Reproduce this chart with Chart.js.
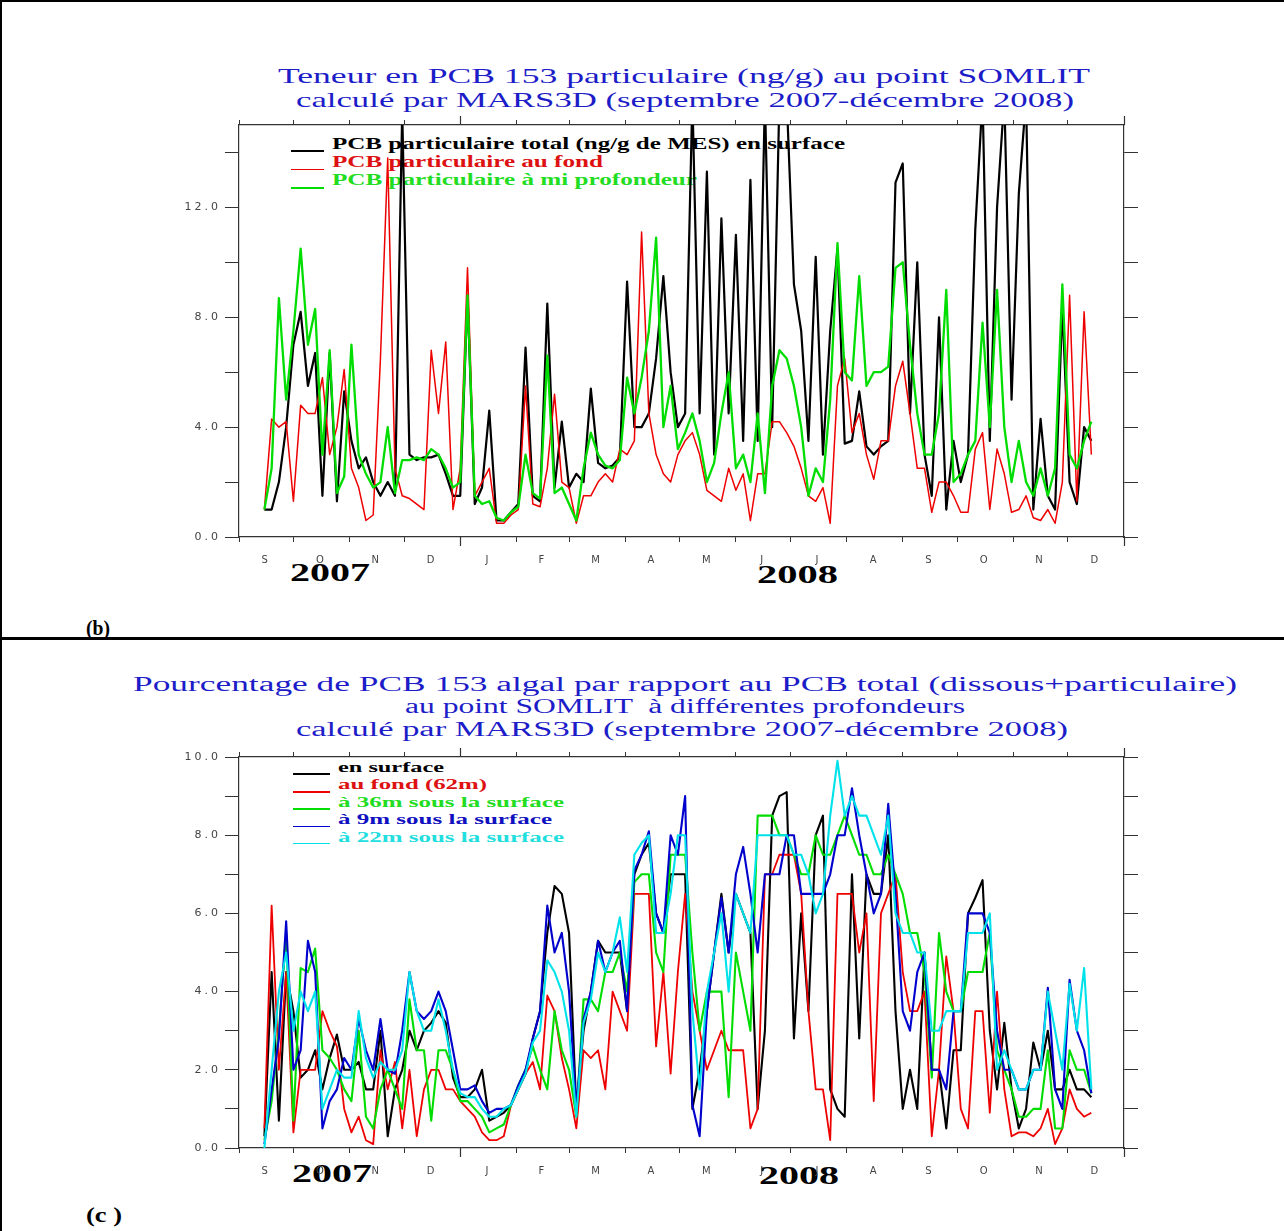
<!DOCTYPE html>
<html><head><meta charset="utf-8">
<script src="https://cdn.jsdelivr.net/npm/chart.js@4.4.1/dist/chart.umd.min.js"></script>
<style>
html,body{margin:0;padding:0;background:#fff;}
#page{position:relative;width:1284px;height:1231px;overflow:hidden;background:#fff;}
canvas{position:absolute;left:0;z-index:2;}
.t{position:absolute;white-space:pre;transform-origin:0 50%;z-index:1;}
.rule{position:absolute;background:#000;z-index:3;}
.sw{position:absolute;height:1.4px;z-index:1;}
</style></head>
<body><div id="page">
<div class="rule" style="left:0;top:0;width:1284px;height:2px"></div>
<div class="rule" style="left:0;top:0;width:2px;height:1231px"></div>
<div class="rule" style="left:0;top:637px;width:1284px;height:2.5px"></div>
<canvas id="cb" width="1284" height="620" style="top:0"></canvas>
<canvas id="cc" width="1284" height="591" style="top:640px"></canvas>
</div>
<script>
// ---------------- DATA ----------------
// x grid: days since 1 Sept 2007, one sample every 4 days from 14 to 470
const sampleDays = Array.from({length:115}, (_, i) => 14 + 4*i);

// month boundaries (days since 1 Sept 2007) and month tick labels
const monthStarts = [0,30,61,91,122,153,182,213,243,274,304,335,366,396,427,457,488];
const monthLabels = ['S','O','N','D','J','F','M','A','M','J','J','A','S','O','N','D'];
const yearTickDays = [122,488];

// Panel (b) : PCB 153 particulaire (ng/g)
const yTicksB  = [0,2,4,6,8,10,12,14];
const yLabelsB = ['0.0','','4.0','','8.0','','12.0',''];
const pcbSurface = [
 1.0,1.0,2.0,4.0,7.0,8.2,5.5,6.7,1.5,6.7,
 1.3,5.3,3.5,2.5,2.9,2.0,1.5,2.0,1.5,15.5,
 3.0,2.8,2.9,2.9,3.0,2.3,1.5,1.5,8.8,1.2,
 1.8,4.6,0.6,0.6,0.9,1.2,6.9,1.5,1.3,8.5,
 1.8,4.2,1.8,2.3,2.0,5.4,2.7,2.5,2.6,2.9,
 9.3,4.0,4.0,4.5,6.5,9.5,6.0,4.0,4.5,16,
 4.5,13.3,3.0,11.6,4.5,11.0,3.5,13.0,3.5,16,
 4.0,16,16,9.2,7.5,3.5,10.2,3.0,7.5,10.5,
 3.4,3.5,5.3,3.3,3.0,3.3,3.5,12.9,13.6,4.5,
 10.0,3.0,1.5,8.0,1.0,3.5,2.0,3.0,11.2,16,
 3.5,12.0,16,5.0,12.5,16,1.0,4.3,1.5,1.0,
 8.4,2.0,1.2,4.0,3.5];
const pcbFond = [
 1.0,4.3,4.0,4.2,1.3,4.8,4.5,4.5,5.8,3.0,
 4.0,6.1,2.5,1.8,0.6,0.8,6.5,13.8,2.5,1.5,
 1.4,1.2,1.0,6.8,4.5,7.1,1.0,2.5,9.8,1.5,
 2.0,2.5,0.5,0.5,0.8,1.0,5.5,1.2,1.1,2.5,
 5.2,2.0,1.8,0.5,1.5,1.5,2.0,2.3,2.0,3.2,
 3.0,3.5,11.1,4.5,3.0,2.3,2.0,3.0,3.5,3.8,
 3.0,1.7,1.5,1.3,2.5,1.7,2.3,0.6,2.3,2.3,
 4.2,4.2,3.8,3.3,2.5,1.5,1.3,1.8,0.5,5.5,
 6.5,3.8,4.5,3.0,2.1,3.5,3.5,5.5,6.4,4.5,
 2.5,2.5,0.9,2.0,2.0,1.5,0.9,0.9,3.2,3.8,
 1.0,3.2,2.3,0.9,1.0,1.5,0.7,0.6,1.0,0.5,
 2.0,8.8,1.3,8.2,3.0];
const pcbMi = [
 1.0,2.5,8.7,5.0,7.5,10.5,7.0,8.3,3.0,6.8,
 1.6,2.2,7.0,3.0,2.3,1.8,2.0,4.0,1.6,2.8,
 2.8,2.9,2.8,3.2,3.0,2.5,1.8,2.0,8.8,1.5,
 1.2,1.3,0.7,0.6,0.9,1.1,3.0,1.6,1.4,6.6,
 1.6,1.8,1.2,0.6,2.5,3.8,3.0,2.6,2.5,2.8,
 5.8,4.5,5.8,7.5,10.9,4.0,5.5,3.2,3.8,4.5,
 3.5,2.0,2.7,4.5,6.0,2.5,3.0,2.0,4.5,1.6,
 5.5,6.8,6.5,5.5,4.0,1.5,2.5,2.0,5.0,10.7,
 6.0,5.7,9.5,5.5,6.0,6.0,6.2,9.8,10.0,7.0,
 4.5,3.0,3.0,4.5,9.0,2.0,2.3,3.0,3.5,7.8,
 4.0,9.0,4.0,2.0,3.5,2.0,1.5,2.5,1.5,2.5,
 9.2,3.0,2.5,3.5,4.2];

// Panel (c) : % PCB 153 algal
const yTicksC  = [0,1,2,3,4,5,6,7,8,9,10];
const yLabelsC = ['0.0','','2.0','','4.0','','6.0','','8.0','','10.0'];
const algSurface = [
 0.3,4.5,0.7,4.5,3.5,1.8,2.0,2.5,1.5,2.3,
 2.9,2.0,2.0,2.2,1.5,1.5,3.0,0.3,1.5,2.0,
 3.0,2.5,3.0,3.2,3.5,3.2,1.8,1.3,1.3,1.5,
 2.0,0.7,0.8,0.9,1.1,1.5,1.9,2.8,3.5,5.5,
 6.7,6.5,5.5,1.0,3.0,4.0,5.3,5.0,5.0,5.0,
 3.5,7.0,7.5,7.8,6.0,5.5,7.0,7.0,7.0,1.0,
 2.0,3.5,5.0,6.5,5.0,6.5,6.0,5.5,1.0,3.0,
 8.5,9.0,9.1,2.8,6.0,3.5,8.0,8.5,1.5,1.0,
 0.8,7.0,2.8,7.0,6.5,6.5,8.0,3.5,1.0,2.0,
 1.0,5.0,2.0,2.0,0.5,2.5,2.5,6.0,6.4,6.85,
 3.0,1.5,3.2,1.5,0.5,1.0,2.7,2.0,3.0,1.5,
 1.5,2.0,1.5,1.5,1.3];
const algFond = [
 0.5,6.2,2.0,4.5,0.4,2.0,2.0,2.0,3.5,3.0,
 2.6,1.0,0.4,0.8,0.2,0.1,2.5,1.5,2.2,0.5,
 2.0,0.3,1.5,2.0,2.0,1.5,1.5,1.2,1.0,0.8,
 0.4,0.2,0.2,0.3,1.1,1.5,1.9,2.2,1.5,3.9,
 3.5,2.3,1.5,0.5,2.5,2.3,2.5,1.5,4.0,3.5,
 3.0,6.5,6.5,6.5,2.6,4.5,1.9,4.5,6.5,4.0,
 3.0,2.0,2.5,3.0,2.5,2.5,2.5,0.5,1.0,7.0,
 7.0,7.5,7.5,7.5,6.5,3.5,1.5,1.5,0.2,6.5,
 6.5,6.5,5.0,6.0,1.2,6.0,6.5,7.0,4.5,3.5,
 3.5,4.0,0.3,2.0,4.9,3.5,1.0,0.5,3.5,3.5,
 0.9,4.0,1.5,0.3,0.4,0.4,0.3,0.5,1.0,0.1,
 0.5,1.5,1.0,0.8,0.9];
const alg36m = [
 0.2,1.2,3.0,5.5,0.7,4.6,4.5,5.1,2.5,2.3,
 2.0,1.5,1.2,3.0,0.8,0.5,1.5,2.0,1.5,1.0,
 3.8,2.5,2.5,0.7,2.5,2.5,2.0,1.2,1.2,1.0,
 0.8,0.4,0.5,0.6,1.1,1.6,2.0,2.6,2.0,1.5,
 3.5,2.5,2.0,0.8,3.8,3.8,3.5,4.5,4.5,5.0,
 4.0,6.8,7.0,7.0,5.0,4.5,7.5,7.5,7.5,5.0,
 3.0,4.0,4.0,4.0,1.3,5.0,4.0,3.0,8.5,8.5,
 8.5,8.0,8.0,7.5,7.0,7.0,8.0,7.5,7.5,8.0,
 8.5,8.0,7.5,7.5,7.0,7.0,7.5,7.0,6.5,5.5,
 5.5,4.5,1.8,5.5,4.0,3.5,3.5,4.5,4.5,4.5,
 5.5,2.5,2.0,1.5,0.8,0.8,1.0,1.0,2.5,0.5,
 0.5,2.5,2.0,2.0,1.4];
const alg9m = [
 0.1,1.5,2.8,5.8,2.0,2.5,5.3,4.5,0.5,1.2,
 1.5,2.3,2.0,3.3,2.5,2.0,3.3,2.0,1.9,3.0,
 4.5,3.5,3.3,3.5,4.0,3.5,2.5,1.5,1.5,1.6,
 1.2,0.9,1.0,1.0,1.1,1.6,2.0,2.8,3.5,6.2,
 5.0,5.5,4.0,1.0,3.3,4.0,5.3,4.5,5.0,5.3,
 3.5,7.1,7.5,8.1,6.0,5.5,8.0,7.5,9.0,1.1,
 0.3,3.5,5.0,6.4,5.0,7.0,7.7,6.5,5.0,7.0,
 7.0,7.0,8.0,8.0,6.5,6.5,6.5,6.5,7.0,8.0,
 8.0,9.2,8.0,7.0,6.0,6.5,8.8,6.5,3.5,3.0,
 4.5,5.0,2.0,2.0,1.5,3.5,3.5,6.0,6.0,6.0,
 5.5,3.0,2.0,2.0,1.5,1.5,2.0,2.0,4.1,1.5,
 1.0,4.3,3.0,2.5,1.4];
const alg22m = [
 0.0,2.0,4.0,5.0,3.0,4.0,3.5,4.0,1.0,1.5,
 2.0,1.8,1.8,3.5,2.3,1.8,2.2,2.0,2.0,2.5,
 4.5,3.5,3.0,3.0,3.8,3.0,2.0,1.4,1.3,1.3,
 1.0,0.8,0.8,1.0,1.1,1.5,1.9,2.7,3.0,4.8,
 4.5,4.0,3.0,0.8,3.2,3.8,5.0,4.5,5.0,5.9,
 4.5,7.5,7.8,8.0,5.5,5.5,6.5,8.0,8.0,3.5,
 1.5,4.0,5.0,6.0,4.0,6.5,6.0,5.5,8.0,8.0,
 8.0,8.0,8.0,7.5,7.5,7.0,6.0,6.5,8.5,9.9,
 8.5,9.0,8.5,8.5,8.0,7.5,8.5,6.0,5.5,5.5,
 5.0,5.0,3.0,3.0,3.5,3.5,3.5,5.5,5.5,5.5,
 6.0,2.0,2.5,2.0,1.5,1.5,2.0,2.0,4.0,3.0,
 2.0,4.2,3.0,4.6,1.5];

// ---------------- STYLE ----------------
const AX = '#333';
const COL = {black:'#000000', red:'#ee0000', green:'#00dd00', blue:'#0000cc', cyan:'#00e2ea'};
const TXT = {black:'#000000', red:'#dd1111', green:'#22dd22', blue:'#1010c0', cyan:'#22dede'};
const monthMids = monthStarts.slice(0,-1).map((v,i)=>(v+monthStarts[i+1])/2);

function pts(vals){ return vals.map((v,i)=>({x:sampleDays[i], y:v})); }
function ds(label, vals, color, width, order){
  return {label, data:pts(vals), borderColor:color, backgroundColor:color, borderWidth:width,
    pointRadius:0, tension:0, fill:false, borderJoinStyle:'round', order, xAxisID:'x', yAxisID:'y'};
}

const spacing = {id:'spacing', beforeDraw(chart){ try{ chart.ctx.letterSpacing='3px'; }catch(e){} }};
const longTicks = {id:'longTicks', afterDraw(chart){
  const ctx=chart.ctx, sx=chart.scales.x, a=chart.chartArea;
  ctx.save(); ctx.strokeStyle=AX; ctx.lineWidth=1.2;
  yearTickDays.forEach(d=>{ const px=Math.round(sx.getPixelForValue(d))+0.5;
    ctx.beginPath(); ctx.moveTo(px,a.top-9); ctx.lineTo(px,a.top); ctx.moveTo(px,a.bottom); ctx.lineTo(px,a.bottom+9); ctx.stroke(); });
  ctx.restore();
}};

function makeChart(id, datasets, ymax, yTicks, yLabels, padTop, padBottom){
  const grid = (len)=>({drawOnChartArea:false, drawTicks:true, tickLength:len, color:AX, tickColor:AX, tickWidth:1});
  const border = {display:true, color:AX, width:1.2};
  const setTicks = (vals)=> (s)=>{ s.ticks = vals.map(v=>({value:v})); };
  return new Chart(document.getElementById(id), {
    type:'line',
    data:{datasets},
    options:{
      responsive:false, animation:false, devicePixelRatio:1,
      layout:{padding:{top:padTop, bottom:padBottom, left:0, right:0}},
      plugins:{legend:{display:false}, tooltip:{enabled:false}, title:{display:false}},
      scales:{
        x:{type:'linear', position:'bottom', min:0, max:488, weight:0,
           afterBuildTicks:setTicks(monthStarts), ticks:{display:false},
           grid:grid(5), border, afterFit:(s)=>{s.height=9;}},
        xl:{type:'linear', position:'bottom', min:0, max:488, weight:1,
           afterBuildTicks:setTicks(monthMids),
           ticks:{autoSkip:false, maxRotation:0, padding:0, color:'#444',
                  font:{family:'DejaVu Sans', size:10}, callback:(v,i)=>monthLabels[i]},
           grid:{display:false}, border:{display:false}, afterFit:(s)=>{s.height=30;}},
        xt:{type:'linear', position:'top', min:0, max:488,
           afterBuildTicks:setTicks(monthStarts), ticks:{display:false},
           grid:grid(5), border, afterFit:(s)=>{s.height=20;}},
        y:{type:'linear', position:'left', min:0, max:ymax,
           afterBuildTicks:setTicks(yTicks),
           ticks:{padding:4, color:'#444', font:{family:'DejaVu Sans', size:11}, callback:(v,i)=>yLabels[i]},
           grid:grid(14), border, afterFit:(s)=>{s.width=239;}},
        yr:{type:'linear', position:'right', min:0, max:ymax,
           afterBuildTicks:setTicks(yTicks), ticks:{display:false},
           grid:grid(14), border, afterFit:(s)=>{s.width=160;}}
      }
    },
    plugins:[spacing, longTicks]
  });
}

makeChart('cb', [
  ds('PCB particulaire total (ng/g de MES) en surface', pcbSurface, COL.black, 2.2, 2),
  ds('PCB particulaire au fond', pcbFond, COL.red, 1.5, 1),
  ds('PCB particulaire à mi profondeur', pcbMi, COL.green, 2.3, 0)
], 15, yTicksB, yLabelsB, 105, 44);

makeChart('cc', [
  ds('en surface', algSurface, COL.black, 2.1, 4),
  ds('au fond (62m)', algFond, COL.red, 1.8, 3),
  ds('à 36m sous la surface', alg36m, COL.green, 2.1, 2),
  ds('à 9m sous la surface', alg9m, COL.blue, 2.1, 1),
  ds('à 22m sous la surface', alg22m, COL.cyan, 2.1, 0)
], 10, yTicksC, yLabelsC, 97, 44);

// ---------------- TEXT (titles, legends, labels) ----------------
const BLUE_T = '#1c1cc8';
const texts = [
  {t:'Teneur en PCB 153 particulaire (ng/g) au point SOMLIT', x:278, w:812, cy:76, s:21, c:BLUE_T},
  {t:'calculé par MARS3D (septembre 2007-décembre 2008)', x:296, w:778, cy:100, s:21, c:BLUE_T},
  {t:'PCB particulaire total (ng/g de MES) en surface', x:332, w:513, cy:144, s:16, b:1, c:TXT.black},
  {t:'PCB particulaire au fond', x:332, w:271, cy:162, s:16, b:1, c:TXT.red},
  {t:'PCB particulaire à mi profondeur', x:332, w:365, cy:180, s:16, b:1, c:TXT.green},
  {t:'2007', x:290, w:80, cy:573, s:26, b:1, c:'#000'},
  {t:'2008', x:757, w:81, cy:575, s:26, b:1, c:'#000'},
  {t:'(b)', x:86, w:24, cy:628, s:22, b:1, c:'#000'},
  {t:'Pourcentage de PCB 153 algal par rapport au PCB total (dissous+particulaire)', x:133, w:1104, cy:684, s:20, c:BLUE_T},
  {t:'au point SOMLIT  à différentes profondeurs', x:405, w:560, cy:706, s:20, c:BLUE_T},
  {t:'calculé par MARS3D (septembre 2007-décembre 2008)', x:296, w:772, cy:729, s:20, c:BLUE_T},
  {t:'en surface', x:338, w:106, cy:767, s:15, b:1, c:TXT.black},
  {t:'au fond (62m)', x:338, w:149, cy:784, s:15, b:1, c:TXT.red},
  {t:'à 36m sous la surface', x:338, w:226, cy:802, s:15, b:1, c:TXT.green},
  {t:'à 9m sous la surface', x:338, w:214, cy:819.5, s:15, b:1, c:TXT.blue},
  {t:'à 22m sous la surface', x:338, w:226, cy:837, s:15, b:1, c:TXT.cyan},
  {t:'2007', x:292, w:80, cy:1174, s:26, b:1, c:'#000'},
  {t:'2008', x:759, w:80, cy:1176, s:26, b:1, c:'#000'},
  {t:'(c )', x:86, w:36, cy:1215, s:22, b:1, c:'#000'}
];
const swatches = [
  {x:291, w:33, y:151, c:COL.black}, {x:291, w:33, y:169.5, c:COL.red}, {x:291, w:33, y:188, c:COL.green},
  {x:293, w:37, y:774, c:COL.black}, {x:293, w:37, y:792, c:COL.red}, {x:293, w:37, y:809, c:COL.green},
  {x:293, w:37, y:826.5, c:COL.blue}, {x:293, w:37, y:843.5, c:COL.cyan}
];
const page = document.getElementById('page');
texts.forEach(L=>{
  const d = document.createElement('div');
  d.className = 't';
  d.textContent = L.t;
  d.style.left = L.x+'px';
  d.style.top = (L.cy - L.s/2)+'px';
  d.style.font = (L.b?'bold ':'') + L.s + 'px/' + L.s + 'px "Liberation Serif", serif';
  d.style.color = L.c;
  page.appendChild(d);
  const nat = d.getBoundingClientRect().width;
  if (nat > 0) d.style.transform = 'scaleX(' + (L.w/nat) + ')';
});
swatches.forEach(S=>{
  const d = document.createElement('div');
  d.className = 'sw';
  d.style.left = S.x+'px'; d.style.top = (S.y-0.7)+'px'; d.style.width = S.w+'px'; d.style.background = S.c;
  page.appendChild(d);
});
</script>
</body></html>
